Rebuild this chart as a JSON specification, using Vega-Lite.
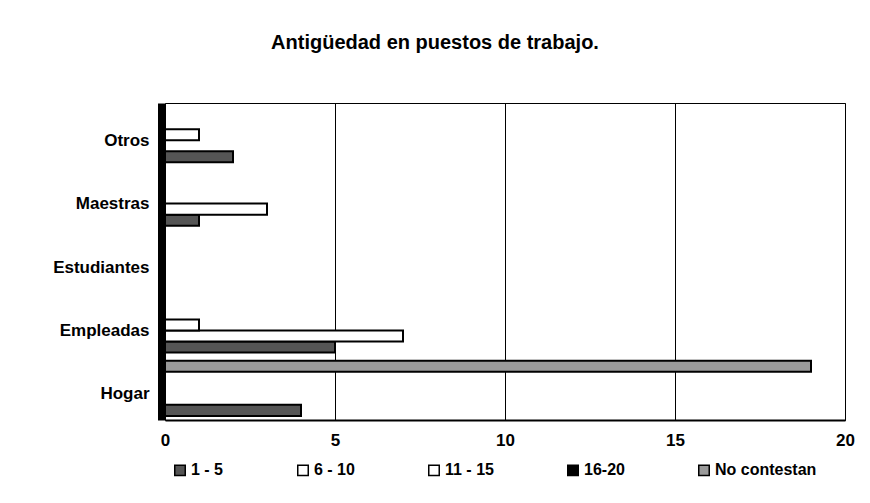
{
  "$schema": "https://vega.github.io/schema/vega-lite/v6.json",
  "width": 680,
  "height": 317,
  "autosize": {"type": "none"},
  "padding": {"left": 165, "top": 103, "right": 25, "bottom": 83},
  "background": "white",
  "title": {
    "text": "Antigüedad en puestos de trabajo.",
    "font": "Liberation Sans",
    "fontSize": 20,
    "fontWeight": "bold",
    "color": "#000",
    "anchor": "middle",
    "dx": -70,
    "offset": 34,
    "baseline": "alphabetic"
  },
  "data": {
    "values": [
      {"puesto": "Otros", "antiguedad": "1 - 5", "personas": 2},
      {"puesto": "Otros", "antiguedad": "6 - 10", "personas": 0},
      {"puesto": "Otros", "antiguedad": "11 - 15", "personas": 1},
      {"puesto": "Otros", "antiguedad": "16-20", "personas": 0},
      {"puesto": "Otros", "antiguedad": "No contestan", "personas": 0},
      {"puesto": "Maestras", "antiguedad": "1 - 5", "personas": 1},
      {"puesto": "Maestras", "antiguedad": "6 - 10", "personas": 3},
      {"puesto": "Maestras", "antiguedad": "11 - 15", "personas": 0},
      {"puesto": "Maestras", "antiguedad": "16-20", "personas": 0},
      {"puesto": "Maestras", "antiguedad": "No contestan", "personas": 0},
      {"puesto": "Estudiantes", "antiguedad": "1 - 5", "personas": 0},
      {"puesto": "Estudiantes", "antiguedad": "6 - 10", "personas": 0},
      {"puesto": "Estudiantes", "antiguedad": "11 - 15", "personas": 0},
      {"puesto": "Estudiantes", "antiguedad": "16-20", "personas": 0},
      {"puesto": "Estudiantes", "antiguedad": "No contestan", "personas": 0},
      {"puesto": "Empleadas", "antiguedad": "1 - 5", "personas": 5},
      {"puesto": "Empleadas", "antiguedad": "6 - 10", "personas": 7},
      {"puesto": "Empleadas", "antiguedad": "11 - 15", "personas": 1},
      {"puesto": "Empleadas", "antiguedad": "16-20", "personas": 0},
      {"puesto": "Empleadas", "antiguedad": "No contestan", "personas": 0},
      {"puesto": "Hogar", "antiguedad": "1 - 5", "personas": 4},
      {"puesto": "Hogar", "antiguedad": "6 - 10", "personas": 0},
      {"puesto": "Hogar", "antiguedad": "11 - 15", "personas": 0},
      {"puesto": "Hogar", "antiguedad": "16-20", "personas": 0},
      {"puesto": "Hogar", "antiguedad": "No contestan", "personas": 19}
    ]
  },
  "mark": {"type": "bar", "stroke": "#000", "strokeWidth": 2},
  "encoding": {
    "y": {
      "field": "puesto",
      "type": "nominal",
      "sort": ["Otros", "Maestras", "Estudiantes", "Empleadas", "Hogar"],
      "scale": {"paddingInner": 0.13, "paddingOuter": 0.065},
      "axis": {
        "title": null,
        "ticks": false,
        "offset": 4,
        "domainColor": "#000",
        "domainWidth": 7,
        "labelFont": "Liberation Sans",
        "labelFontSize": 17,
        "labelFontWeight": "bold",
        "labelColor": "#000",
        "labelPadding": 12,
        "labelOffset": 6
      }
    },
    "yOffset": {
      "field": "antiguedad",
      "type": "nominal",
      "sort": ["No contestan", "16-20", "11 - 15", "6 - 10", "1 - 5"],
      "scale": {"paddingInner": 0, "paddingOuter": 0}
    },
    "x": {
      "field": "personas",
      "type": "quantitative",
      "scale": {"domain": [0, 20]},
      "axis": {
        "title": null,
        "ticks": false,
        "values": [0, 5, 10, 15, 20],
        "grid": true,
        "gridColor": "#000",
        "gridWidth": 1,
        "domainColor": "#000",
        "domainWidth": 2,
        "labelFont": "Liberation Sans",
        "labelFontSize": 17,
        "labelFontWeight": "bold",
        "labelColor": "#000",
        "labelPadding": 12,
        "labelFlush": false
      }
    },
    "color": {
      "field": "antiguedad",
      "type": "nominal",
      "scale": {
        "domain": ["1 - 5", "6 - 10", "11 - 15", "16-20", "No contestan"],
        "range": ["#555555", "#ffffff", "#ffffff", "#000000", "#9a9a9a"]
      },
      "legend": {
        "title": null,
        "orient": "none",
        "legendX": 7,
        "legendY": 359,
        "direction": "horizontal",
        "columns": 5,
        "columnPadding": 70,
        "symbolType": "square",
        "symbolSize": 110,
        "symbolStrokeColor": "#000",
        "symbolStrokeWidth": 1.5,
        "labelFont": "Liberation Sans",
        "labelFontSize": 16,
        "labelFontWeight": "bold",
        "labelColor": "#000",
        "labelOffset": 3
      }
    }
  },
  "config": {
    "view": {"stroke": "#000", "strokeWidth": 1}
  }
}
